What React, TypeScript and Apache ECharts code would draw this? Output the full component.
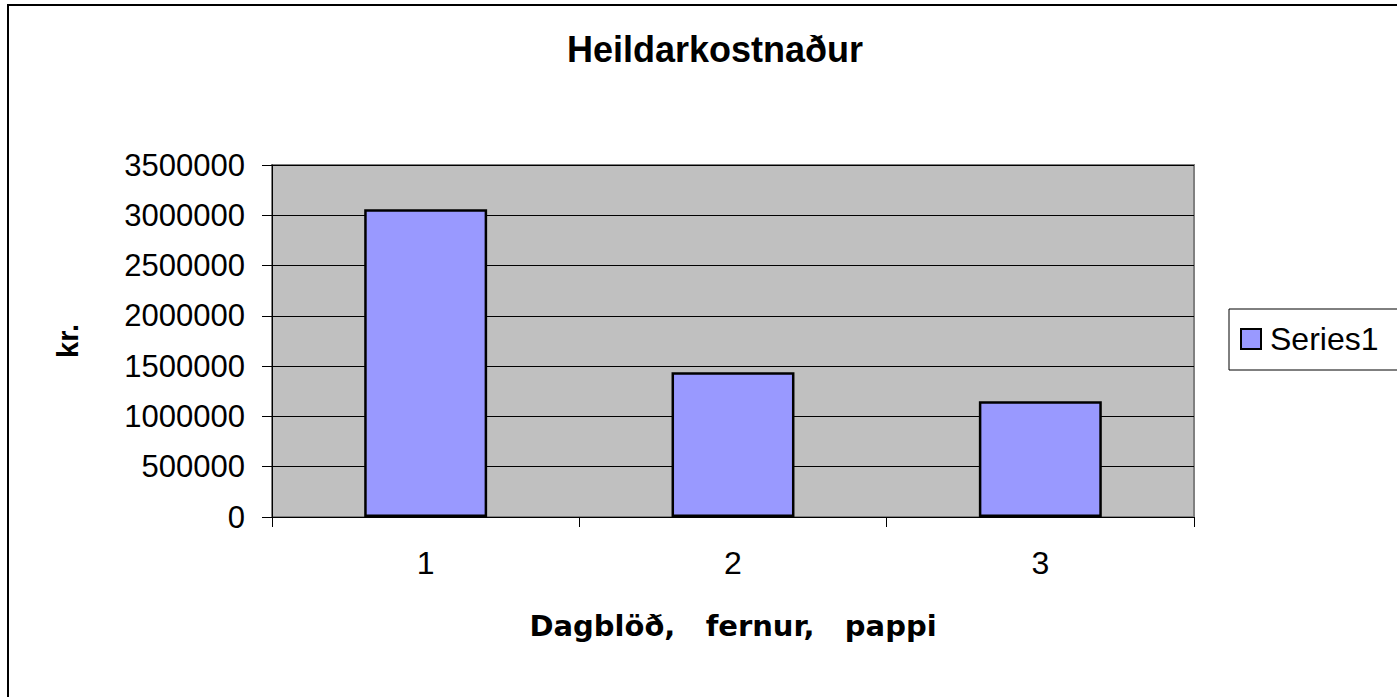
import React, { useEffect, useRef } from "react";
import * as echarts from "echarts";

const titleText = "Heildarkostnaður";
const categories = ["1", "2", "3"];
const seriesName = "Series1";
const values = [3060000, 1440000, 1150000];
const yAxisName = "kr.";
const xAxisName = "Dagblöð,   fernur,   pappi";

const FONT = "'Liberation Sans', Arial, sans-serif";

export default function App() {
  const ref = useRef<HTMLDivElement>(null);
  useEffect(() => {
    if (!ref.current) return;
    const chart = echarts.init(ref.current, undefined, { renderer: "svg" });
    chart.setOption({
      animation: false,
      backgroundColor: "#ffffff",
      title: {
        text: titleText,
        left: 710,
        top: 26,
        textAlign: "center",
        textStyle: { fontFamily: FONT, fontSize: 36, fontWeight: "bold", color: "#000" },
      },
      legend: {
        left: 1229,
        top: 309,
        orient: "vertical",
        data: [seriesName],
        icon: "rect",
        itemWidth: 20,
        itemHeight: 20,
        itemGap: 0,
        padding: [14, 40, 15, 11],
        borderColor: "#000",
        borderWidth: 1,
        textStyle: { fontFamily: FONT, fontSize: 32, color: "#000", padding: [0, 0, 0, 4] },
        itemStyle: { borderColor: "#000", borderWidth: 2 },
      },
      graphic: [
        {
          type: "rect",
          shape: { x: 8, y: 5, width: 1500, height: 800 },
          style: { fill: "none", stroke: "#000", lineWidth: 2 },
          silent: true,
        },
      ],
      grid: {
        left: 272,
        top: 165,
        right: 1397 - 1194,
        bottom: 697 - 517,
        show: true,
        backgroundColor: "#C0C0C0",
        borderColor: "#808080",
        borderWidth: 2,
      },
      xAxis: {
        type: "category",
        data: categories,
        name: xAxisName,
        nameLocation: "middle",
        nameGap: 94,
        nameTextStyle: {
          fontFamily: "'DejaVu Sans', 'Liberation Sans', sans-serif",
          fontSize: 29,
          fontWeight: "bold",
          color: "#000",
        },
        axisLine: { show: true, lineStyle: { color: "#000", width: 1 } },
        axisTick: { show: true, length: 10, lineStyle: { color: "#000" } },
        axisLabel: { fontFamily: FONT, fontSize: 32, color: "#000", margin: 30 },
      },
      yAxis: {
        type: "value",
        min: 0,
        max: 3500000,
        interval: 500000,
        name: yAxisName,
        nameLocation: "middle",
        nameGap: 190,
        nameRotate: 90,
        nameTextStyle: { fontFamily: FONT, fontSize: 29, fontWeight: "bold", color: "#000" },
        axisLine: { show: true, lineStyle: { color: "#000", width: 1 } },
        axisTick: { show: true, length: 10, lineStyle: { color: "#000" } },
        axisLabel: {
          fontFamily: FONT,
          fontSize: 31,
          color: "#000",
          margin: 27,
          formatter: (v: number) => String(v),
        },
        splitLine: { show: true, lineStyle: { color: "#000", width: 1 } },
      },
      series: [
        {
          name: seriesName,
          type: "bar",
          data: values,
          barCategoryGap: "60%",
          itemStyle: { color: "#9999FF", borderColor: "#000", borderWidth: 2.5 },
        },
      ],
    });
    return () => chart.dispose();
  }, []);
  return (
    <div
      ref={ref}
      style={{ position: "absolute", left: 0, top: 0, width: 1397, height: 697, background: "#fff" }}
    />
  );
}
